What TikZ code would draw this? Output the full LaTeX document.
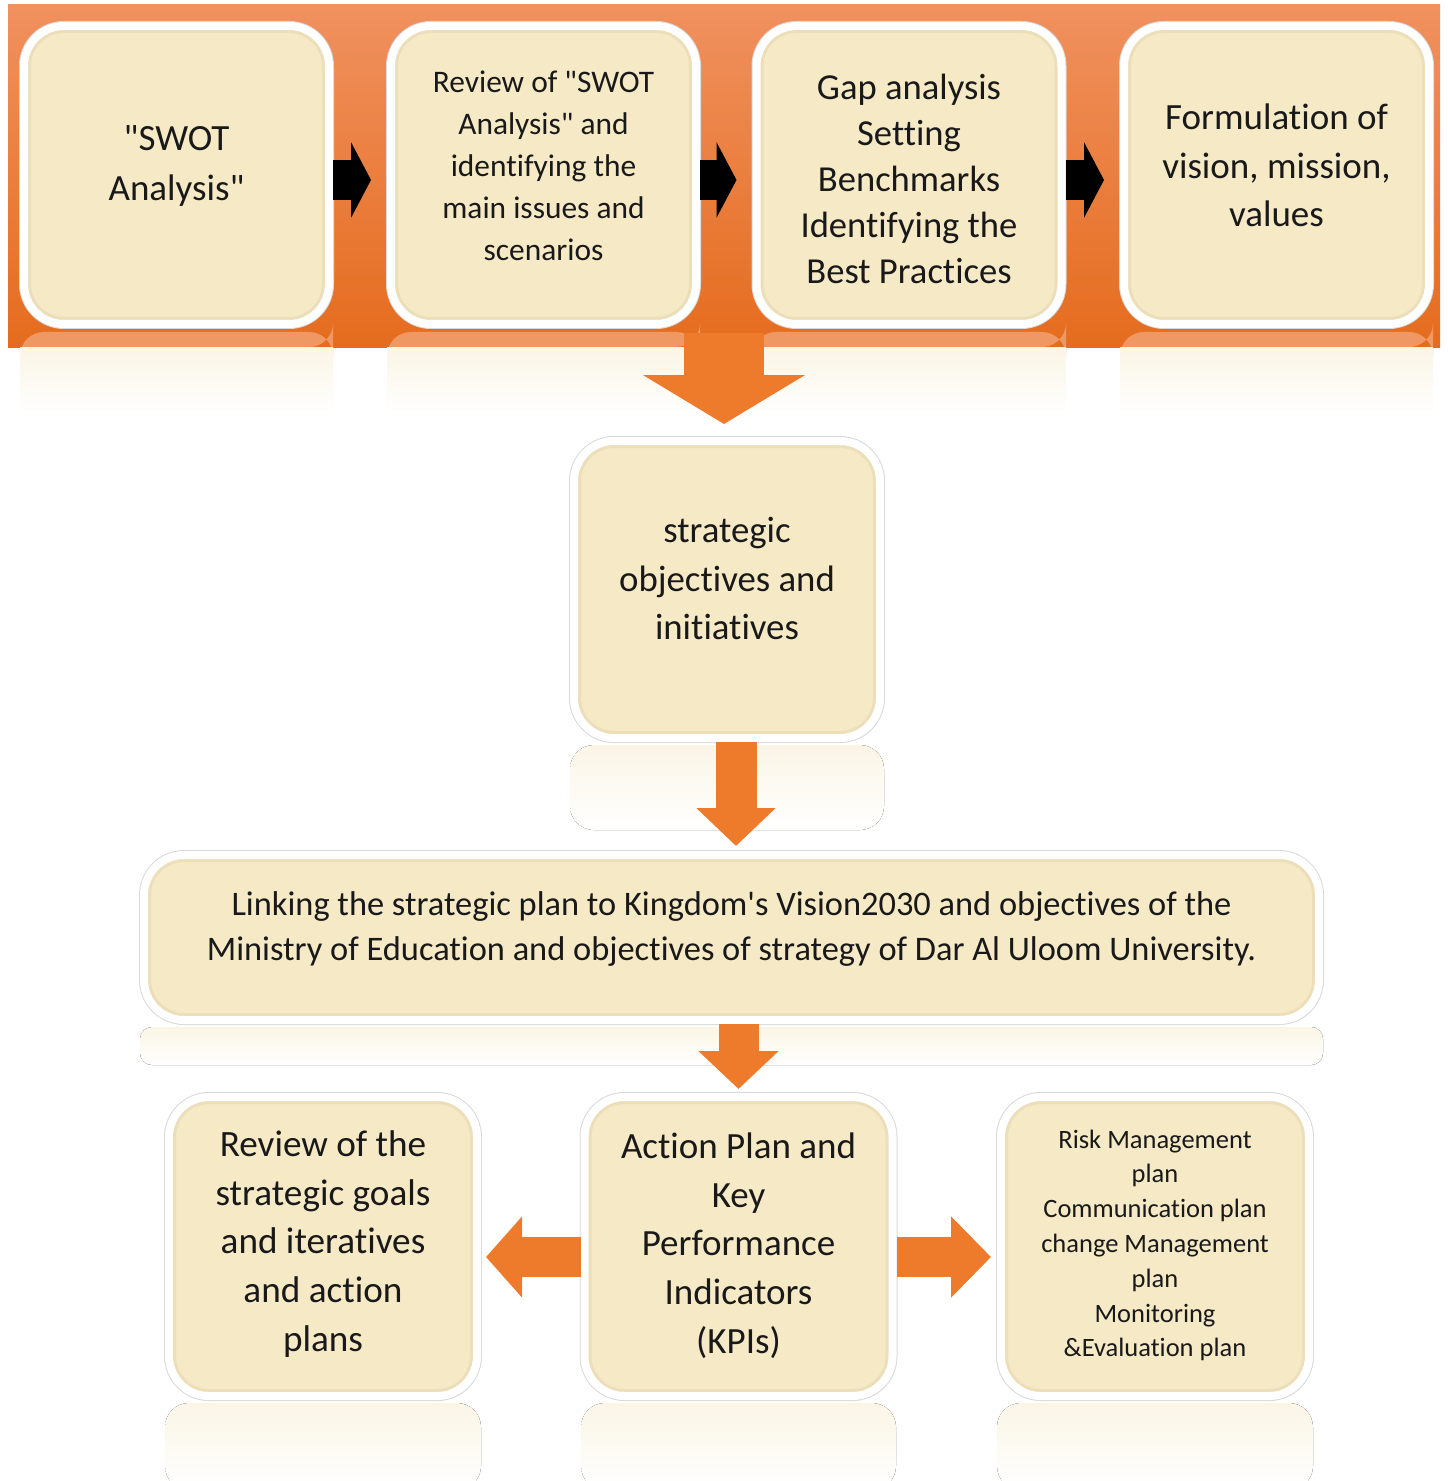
\documentclass[tikz,border=0pt]{standalone}
\usepackage{fontspec}
\setmainfont{Carlito}
\setmonofont{Carlito}[Ligatures=CommonOff]
\newcommand\fsz[2]{\ttfamily\fontsize{#1}{#2}\selectfont}
\usetikzlibrary{arrows.meta,calc,shadows}
\definecolor{cream}{RGB}{245,233,198}
\definecolor{rim}{RGB}{236,222,184}
\definecolor{orA}{RGB}{238,122,44}
\definecolor{bandT}{RGB}{240,145,95}
\definecolor{bandB}{RGB}{229,108,30}
\definecolor{reflOr}{RGB}{240,152,100}
\tikzset{
  box/.style={rounded corners=20pt, fill=cream, draw=white, line width=4pt, inner sep=0pt,
    drop shadow={opacity=0.22, shadow xshift=1.5pt, shadow yshift=-2pt},
    preaction={draw=black!15, line width=5pt},
    path picture={\draw[rim, line width=7pt, rounded corners=20pt]
      (path picture bounding box.south west) rectangle (path picture bounding box.north east);}},
  topbox/.style={box, minimum width=152.5pt, minimum height=149pt},
  lowbox/.style={box, minimum width=154pt, minimum height=149.5pt},
  txt/.style={align=center, text=black!90, inner sep=0pt},
  refl/.style={top color=cream!45!white, bottom color=white},
  blackarrow/.style={line width=20pt, black, -{Triangle[length=10pt, width=37.5pt]}, shorten >=8pt},
  orarrow/.style={line width=20pt, orA, -{Triangle[length=19pt, width=39pt]}},
}
\begin{document}
\begin{tikzpicture}[x=0.5pt, y=-0.5pt]
\useasboundingbox (0,0) rectangle (1447,1481);

% orange band
\node[minimum width=716pt, minimum height=171pt, inner sep=0pt, top color=bandT, bottom color=bandB] (band) at (724,176) {};

% reflections of the top row
\foreach \a/\b in {20/333, 387/700, 752/1066, 1120/1433}{
  \fill[reflOr] (\a,347) [rounded corners=12pt] |- ({(\a+\b)/2},332) -| (\b,347) [sharp corners] -- cycle;
  \fill[refl] (\a,347) rectangle (\b,415);
}
% other reflections
\fill[refl, rounded corners=12pt] (570,745) rectangle (884,830);
\fill[refl, rounded corners=6pt] (140,1027) rectangle (1323,1065);
\fill[refl, rounded corners=12pt] (165,1403) rectangle (481,1490);
\fill[refl, rounded corners=12pt] (581,1403) rectangle (896,1490);
\fill[refl, rounded corners=12pt] (997,1403) rectangle (1313,1490);

% boxes
\node[topbox] (b1) at (176.5,175) {};
\node[topbox] (b2) at (543.5,175) {};
\node[topbox] (b3) at (909,175) {};
\node[topbox] (b4) at (1276.5,175) {};
\node[box, minimum width=153pt, minimum height=148.5pt] (s) at (727,589.5) {};
\node[box, minimum width=587.5pt, minimum height=82.5pt] (l) at (731.5,937.5) {};
\node[lowbox] (L) at (323,1246.5) {};
\node[lowbox] (C) at (738.5,1246.5) {};
\node[lowbox] (R) at (1155,1246.5) {};

% connectors
\draw[blackarrow] ([yshift=-2.5pt]b1.east) -- ([yshift=-2.5pt]b2.west);
\draw[blackarrow] ([yshift=-2.5pt]b2.east) -- ([yshift=-2.5pt]b3.west);
\draw[blackarrow] ([yshift=-2.5pt]b3.east) -- ([yshift=-2.5pt]b4.west);
\draw[line width=40pt, orA, -{Triangle[length=24.5pt, width=80pt]}, shorten >=6.5pt]
  ([yshift=7pt]band.south) -- (band.south |- s.north);
\draw[orarrow, line width=20.5pt, -{Triangle[length=19pt, width=38.5pt]}, shorten >=2.5pt]
  ([xshift=4.5pt]s.south) -- ([xshift=4.5pt]s.south |- l.north);
\draw[orarrow, shorten >=2pt] (l.south -| C.north) -- (C.north);
\draw[orarrow, -{Triangle[length=18pt, width=39.5pt]}, shorten >=2.5pt]
  ([yshift=-5.25pt]C.west) -- ([yshift=-5.25pt]L.east);
\draw[orarrow, -{Triangle[length=20pt, width=39.5pt]}, shorten >=3pt]
  ([yshift=-5.25pt]C.east) -- ([yshift=-5.25pt]R.west);

% texts
\node[txt, font=\fsz{18.5pt}{25pt}] (t1) at ([yshift=4.5pt]b1.center) {"SWOT\\Analysis"};
\node[txt, font=\fsz{15.7pt}{21pt}] (t2) at ([yshift=4.75pt]b2.center)
  {Review of "SWOT\\Analysis" and\\identifying the\\main issues and\\scenarios};
\node[txt, font=\fsz{18.3pt}{23pt}] (t3) at ([yshift=-1.75pt]b3.center)
  {Gap analysis\\Setting\\Benchmarks\\Identifying the\\Best Practices};
\node[txt, font=\fsz{18.5pt}{24.25pt}] (t4) at ([yshift=4.75pt]b4.center)
  {Formulation of\\vision, mission,\\values};
\node[txt, font=\fsz{18.4pt}{24.25pt}] (ts) at ([yshift=5.5pt]s.center)
  {strategic\\objectives and\\initiatives};
\node[txt, font=\fsz{17.2pt}{22.5pt}] (tl) at ([yshift=4pt]l.center)
  {Linking the strategic plan to Kingdom's Vision2030 and objectives of the\\Ministry of Education and objectives of strategy of Dar Al Uloom University.};
\node[txt, font=\fsz{18.6pt}{24.35pt}] (tL) at ([yshift=1.25pt]L.center)
  {Review of the\\strategic goals\\and iteratives\\and action\\plans};
\node[txt, font=\fsz{18.5pt}{24.35pt}] (tC) at ([yshift=0.5pt]C.center)
  {Action Plan and\\Key\\Performance\\Indicators\\(KPIs)};
\node[txt, font=\fsz{13.25pt}{17.4pt}] (tR) at ([yshift=0.5pt]R.center)
  {Risk Management\\plan\\Communication plan\\change Management\\plan\\Monitoring\\\&Evaluation plan};
\end{tikzpicture}
\end{document}
